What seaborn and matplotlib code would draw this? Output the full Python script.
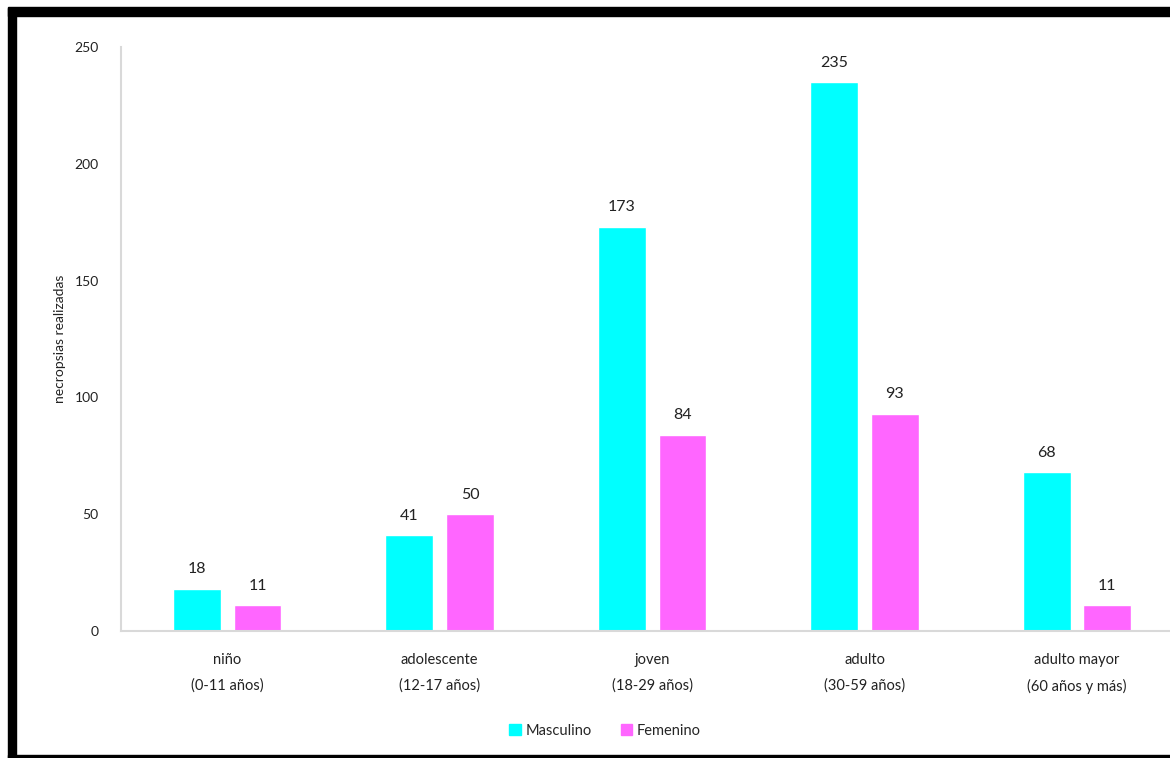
import numpy as np
import pandas as pd
import seaborn as sns
import matplotlib.pyplot as plt
from matplotlib.patches import Rectangle

categorias = ["niño\n(0-11 años)", "adolescente\n(12-17 años)", "joven\n(18-29 años)",
              "adulto\n(30-59 años)", "adulto mayor\n(60 años y más)"]
masculino = [18, 41, 173, 235, 68]
femenino = [11, 50, 84, 93, 11]
series = ["Masculino", "Femenino"]
colores = ["#00FFFF", "#FF66FF"]

df = pd.DataFrame({
    "grupo": categorias * 2,
    "sexo": [series[0]] * len(categorias) + [series[1]] * len(categorias),
    "n": masculino + femenino,
})

sns.set_style("white")
plt.rcParams['font.family'] = ['Lato', 'DejaVu Sans']

fig = plt.figure(figsize=(11.7, 7.58), dpi=100)
ax = fig.add_axes([0.1034, 0.1675, 0.908, 0.7705])

sns.barplot(data=df, x="grupo", y="n", hue="sexo", palette=colores, saturation=1,
            width=0.57, gap=0.21, ax=ax, legend=True)

for cont in ax.containers:
    ax.bar_label(cont, padding=9, fontsize=11.5, color="#222222")

ax.set_ylim(0, 250)
ax.set_yticks(np.arange(0, 251, 50))
ax.set_xlim(-0.5, 4.5)
ax.set_xlabel("")
ax.set_ylabel("necropsias realizadas", fontsize=10, color="#222222", labelpad=6)
ax.tick_params(axis="y", length=0, pad=16, labelsize=10, labelcolor="#222222")
ax.tick_params(axis="x", length=0, pad=16, labelsize=10.5, labelcolor="#222222")
for t in ax.get_xticklabels():
    t.set_linespacing(2.0)

for s in ["top", "right"]:
    ax.spines[s].set_visible(False)
for s in ["left", "bottom"]:
    ax.spines[s].set_color("#d9d9d9")
    ax.spines[s].set_linewidth(1.5)

ax.legend_.remove()
handles = [Rectangle((0, 0), 1, 1, color=c) for c in colores]
fig.legend(handles, series, loc="center", bbox_to_anchor=(0.517, 0.036), ncol=2,
           frameon=False, fontsize=10.5, handlelength=0.8, handleheight=0.8,
           handletextpad=0.3, columnspacing=2.0)

# marco negro alrededor del gráfico
fig.patches.append(Rectangle((8 / 1170, 1 - 16 / 758), 1, 9 / 758, transform=fig.transFigure,
                             color="black", zorder=10))
fig.patches.append(Rectangle((8 / 1170, 0), 8 / 1170, 1 - 8 / 758, transform=fig.transFigure,
                             color="black", zorder=10))
fig.patches.append(Rectangle((8 / 1170, 0), 1, 3 / 758, transform=fig.transFigure,
                             color="black", zorder=10))

fig.savefig("out.png", dpi=100)
